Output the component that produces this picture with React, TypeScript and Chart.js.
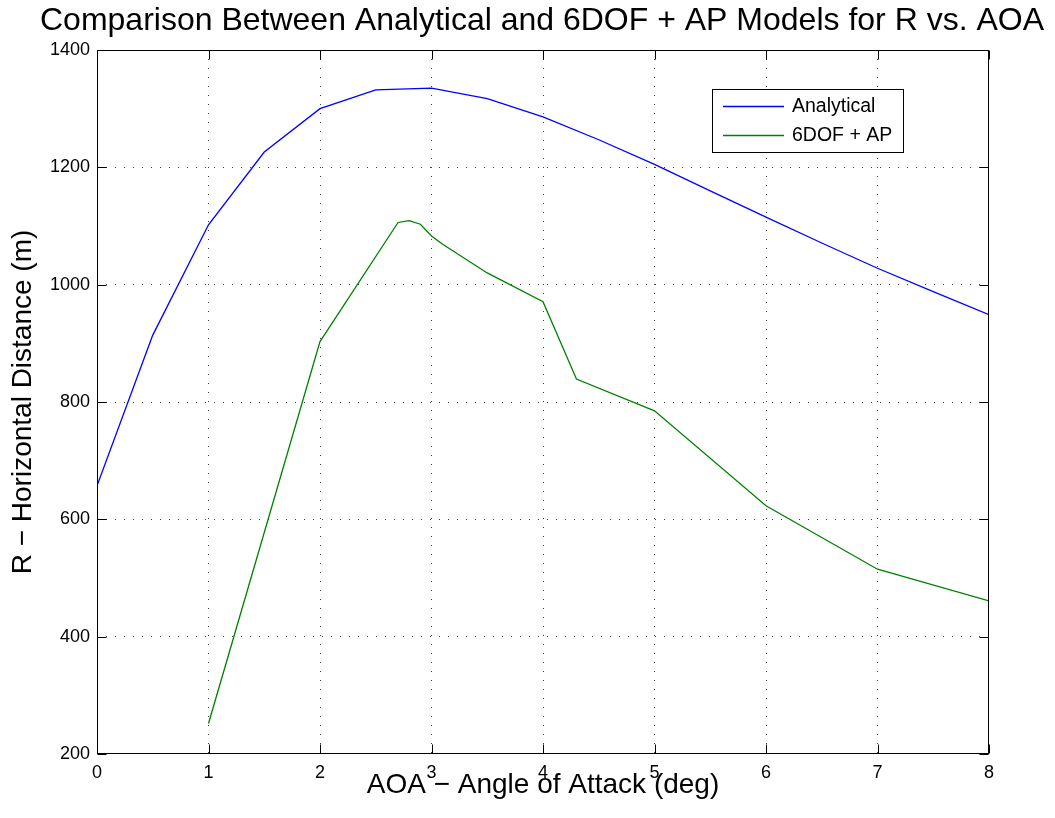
import React, { useEffect, useRef } from "react";
import { Chart, registerables } from "chart.js";

Chart.register(...registerables);

const analyticalAoa = [0, 0.5, 1, 1.5, 2, 2.5, 3, 3.5, 4, 4.5, 5, 5.5, 6, 6.5, 7, 7.5, 8];
const analyticalR = [657, 914, 1102, 1226, 1300, 1332, 1335, 1317, 1286, 1247, 1205, 1160, 1115, 1071, 1028, 988, 949];

const sixdofAoa = [1, 2, 2.7, 2.8, 2.9, 3.0, 3.1, 3.5, 4.0, 4.2, 4.3, 5, 6, 7, 8];
const sixdofR = [252, 903, 1106, 1109, 1103, 1083, 1069, 1020, 971, 883, 839, 785, 623, 515, 461];

const xTicks = [0, 1, 2, 3, 4, 5, 6, 7, 8];
const yTicks = [200, 400, 600, 800, 1000, 1200, 1400];

const titleText = "Comparison Between Analytical and 6DOF + AP Models for R vs. AOA";
const xTitle = "AOA \u2212 Angle of Attack (deg)";
const yTitle = "R \u2212 Horizontal Distance (m)";
const seriesNames = ["Analytical", "6DOF + AP"];
const seriesColors = ["#0000ff", "#008000"];

const FONT = "'Liberation Sans', Arial, Helvetica, sans-serif";

const framePlugin = {
  id: "matlabFrame",
  afterDraw(chart: any) {
    const ctx = chart.ctx;
    const a = chart.chartArea;
    const xs = chart.scales.x;
    const ys = chart.scales.y;
    ctx.save();
    // box
    ctx.strokeStyle = "#000";
    ctx.lineWidth = 1;
    const L = Math.round(a.left) + 0.5;
    const R = Math.round(a.right) - 0.5;
    const T = Math.round(a.top) + 0.5;
    const B = Math.round(a.bottom) - 0.5;
    ctx.strokeRect(L, T, R - L, B - T);
    // inner ticks
    const tl = 9;
    ctx.beginPath();
    xTicks.forEach((v) => {
      const px = Math.round(xs.getPixelForValue(v)) + 0.5;
      ctx.moveTo(px, B);
      ctx.lineTo(px, B - tl);
      ctx.moveTo(px, T);
      ctx.lineTo(px, T + tl);
    });
    yTicks.forEach((v) => {
      const py = Math.round(ys.getPixelForValue(v)) + 0.5;
      ctx.moveTo(L, py);
      ctx.lineTo(L + tl, py);
      ctx.moveTo(R, py);
      ctx.lineTo(R - tl, py);
    });
    ctx.stroke();

    // title
    ctx.fillStyle = "#000";
    ctx.font = `32px ${FONT}`;
    ctx.textAlign = "center";
    ctx.textBaseline = "alphabetic";
    const cx = (a.left + a.right) / 2;
    ctx.fillText(titleText, cx - 1, 30);
    // x title
    ctx.font = `28px ${FONT}`;
    ctx.fillText(xTitle, cx, 793);
    // y title
    ctx.save();
    ctx.translate(31, (a.top + a.bottom) / 2);
    ctx.rotate(-Math.PI / 2);
    ctx.fillText(yTitle, 0, 0);
    ctx.restore();

    // legend
    const bx = 712, by = 89, bw = 191, bh = 63;
    ctx.fillStyle = "#fff";
    ctx.fillRect(bx, by, bw, bh);
    ctx.strokeStyle = "#000";
    ctx.lineWidth = 1;
    ctx.strokeRect(bx + 0.5, by + 0.5, bw, bh);
    ctx.font = `19.5px ${FONT}`;
    ctx.textAlign = "left";
    ctx.textBaseline = "middle";
    const rows = [106, 135];
    seriesNames.forEach((n, i) => {
      ctx.strokeStyle = seriesColors[i];
      ctx.lineWidth = 1.3;
      ctx.beginPath();
      ctx.moveTo(723, rows[i] + 0.5);
      ctx.lineTo(784, rows[i] + 0.5);
      ctx.stroke();
      ctx.fillStyle = "#000";
      ctx.fillText(n, 792, rows[i] + 1);
    });
    ctx.restore();
  },
};

export default function App() {
  const ref = useRef<HTMLCanvasElement | null>(null);
  useEffect(() => {
    if (!ref.current) return;
    const chart = new Chart(ref.current, {
      type: "line",
      data: {
        datasets: [
          {
            label: seriesNames[0],
            data: analyticalAoa.map((x, i) => ({ x, y: analyticalR[i] })),
            borderColor: seriesColors[0],
            borderWidth: 1.3,
            pointRadius: 0,
            tension: 0,
            fill: false,
          },
          {
            label: seriesNames[1],
            data: sixdofAoa.map((x, i) => ({ x, y: sixdofR[i] })),
            borderColor: seriesColors[1],
            borderWidth: 1.3,
            pointRadius: 0,
            tension: 0,
            fill: false,
          },
        ],
      },
      options: {
        animation: false,
        responsive: false,
        devicePixelRatio: 1,
        layout: { padding: { top: 50, right: 66, left: 0, bottom: 0 } },
        plugins: {
          legend: { display: false },
          title: { display: false },
          tooltip: { enabled: false },
        },
        scales: {
          x: {
            type: "linear",
            min: 0,
            max: 8,
            afterBuildTicks: (s: any) => {
              s.ticks = xTicks.map((v) => ({ value: v }));
            },
            afterFit: (s: any) => {
              s.height = 64;
            },
            ticks: {
              color: "#000",
              font: { family: FONT, size: 18 },
              padding: 8,
              maxRotation: 0,
              autoSkip: false,
              callback: (v: any) => String(v),
            },
            grid: {
              color: "rgba(0,0,0,0.75)",
              drawTicks: false,
              lineWidth: (c: any) => (c.tick && (c.tick.value === 0 || c.tick.value === 8) ? 0 : 1),
            },
            border: { display: false, dash: [1, 8] },
          },
          y: {
            type: "linear",
            min: 200,
            max: 1400,
            afterBuildTicks: (s: any) => {
              s.ticks = yTicks.map((v) => ({ value: v }));
            },
            afterFit: (s: any) => {
              s.width = 97;
            },
            ticks: {
              color: "#000",
              font: { family: FONT, size: 18 },
              padding: 7,
              autoSkip: false,
              callback: (v: any) => String(v),
            },
            grid: {
              color: "rgba(0,0,0,0.75)",
              drawTicks: false,
              lineWidth: (c: any) => (c.tick && (c.tick.value === 200 || c.tick.value === 1400) ? 0 : 1),
            },
            border: { display: false, dash: [1, 8] },
          },
        },
      },
      plugins: [framePlugin],
    });
    return () => chart.destroy();
  }, []);
  return (
    <div style={{ position: "fixed", left: 0, top: 0, width: 1055, height: 818, background: "#fff" }}>
      <canvas ref={ref} width={1055} height={818} style={{ width: 1055, height: 818, display: "block" }} />
    </div>
  );
}
